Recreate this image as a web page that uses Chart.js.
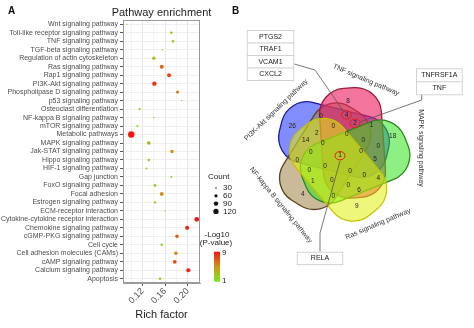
<!DOCTYPE html>
<html>
<head>
<meta charset="utf-8">
<script src="https://cdn.jsdelivr.net/npm/chart.js@4.4.1/dist/chart.umd.min.js"></script>
<style>
    html, body { margin: 0; padding: 0; background: #fff; }
    #wrap { position: relative; width: 474px; height: 328px; }
    #wrap canvas { position: absolute; top: 0; }
    #chartA { left: 0; }
    #chartB { left: 230px; }
</style>
</head>
<body>
<div id="wrap">
    <canvas id="chartA" width="240" height="328"></canvas>
    <canvas id="chartB" width="244" height="328"></canvas>
</div>
<script>
// ---- panel A data (top to bottom) ----
var pathways = [
    'Wnt signaling pathway', 'Toll-like receptor signaling pathway', 'TNF signaling pathway',
    'TGF-beta signaling pathway', 'Regulation of actin cytoskeleton', 'Ras signaling pathway',
    'Rap1 signaling pathway', 'PI3K-Akt signaling pathway', 'Phospholipase D signaling pathway',
    'p53 signaling pathway', 'Osteoclast differentiation', 'NF-kappa B signaling pathway',
    'mTOR signaling pathway', 'Metabolic pathways', 'MAPK signaling pathway',
    'Jak-STAT signaling pathway', 'Hippo signaling pathway', 'HIF-1 signaling pathway',
    'Gap junction', 'FoxO signaling pathway', 'Focal adhesion', 'Estrogen signaling pathway',
    'ECM-receptor interaction', 'Cytokine-cytokine receptor interaction',
    'Chemokine signaling pathway', 'cGMP-PKG signaling pathway', 'Cell cycle',
    'Cell adhesion molecules (CAMs)', 'cAMP signaling pathway', 'Calcium signaling pathway',
    'Apoptosis'
];
var richFactor = [
    0.093, 0.171, 0.174, 0.155, 0.140, 0.154, 0.167, 0.141, 0.182, 0.189,
    0.115, 0.140, 0.111, 0.100, 0.131, 0.172, 0.131, 0.127, 0.171, 0.142,
    0.154, 0.142, 0.160, 0.216, 0.199, 0.181, 0.154, 0.179, 0.177, 0.201,
    0.151
];
var geneCount = [
    27, 45, 45, 29, 62, 78, 78, 92, 62, 27,
    39, 29, 39, 165, 67, 67, 45, 36, 36, 49,
    72, 42, 29, 99, 80, 67, 45, 67, 72, 83,
    45
];
var negLogP = [
    1.5, 3.0, 3.0, 2.0, 3.0, 6.5, 7.5, 8.0, 5.5, 2.0,
    2.0, 2.0, 1.8, 9.0, 3.5, 5.0, 2.5, 2.0, 2.0, 2.5,
    5.5, 2.5, 1.8, 9.0, 8.5, 6.5, 2.0, 5.5, 7.5, 8.5,
    2.5
];
var richTicks = [0.12, 0.16, 0.20];
var richMinor = [0.10, 0.14, 0.18, 0.22];
var countBreaks = [30, 60, 90, 120];
var pRange = [1, 9];

// ---- panel B data ----
var setNames = ['TNF signaling pathway', 'MAPK signaling pathway', 'Ras signaling pathway',
    'NF-kappa B signaling pathway', 'PI3K-Akt signaling pathway'];
var regionCounts = [8, 4, 2, 1, 0, 0, 26, 2, 14, 0, 0, 0, 18, 0, 0, 1,
    0, 5, 0, 0, 0, 0, 0, 4, 1, 0, 0, 6, 4, 0, 9];
var geneGroups = [['PTGS2', 'TRAF1', 'VCAM1', 'CXCL2'], ['TNFRSF1A', 'TNF'], ['RELA']];

// ---- layout for panel B (screen units) ----
var regionPos = [
    [348, 101], [346.5, 115], [355, 123.3], [371.5, 125], [321, 116.7], [333.3, 126],
    [292.3, 126.7], [316.7, 133.3], [305.7, 140], [322.7, 143.3], [346.7, 134.3],
    [363.3, 140], [392.7, 136.7], [378.3, 146.7], [310.7, 152.7], [340, 155.7],
    [361, 151.7], [375, 159.3], [297.3, 160.7], [325, 166.7], [309.3, 170], [350, 171],
    [364.3, 175], [378.3, 178.3], [312.7, 181.7], [331.7, 180.7], [348.3, 185],
    [359, 190.7], [302.7, 194.3], [333.3, 196.7], [356.7, 206]
];
var circledRegions = [1, 2, 15];
var vennCenter = [341, 154];
var petalOffset = 16, petalTilt = 50, petalLong = 55, petalShort = 31, petalRound = 26, petalAngle0 = 44;
var drawOrder = [4, 3, 0, 1, 2];
var setColors = [
    { fill: 'rgba(236,30,95,0.62)', line: '#9b1b3a' },
    { fill: 'rgba(50,225,30,0.55)', line: '#2a8a1a' },
    { fill: 'rgba(225,240,15,0.55)', line: '#c4c400' },
    { fill: 'rgba(160,130,70,0.55)', line: '#5a4520' },
    { fill: 'rgba(45,65,250,0.6)', line: '#1a1aa8' }
];
var setLabelPos = [[366, 80, 23], [421, 148, 90], [378, 224, -23], [281, 205, 51], [276, 110, -44]];
var boxPos = [[246.7, 30, 47.6, 12.5], [416, 68.3, 46.7, 13], [296.7, 251.7, 46.6, 12.5]];
var leaderLines = [
    [[294.3, 64], [315, 70], [344, 112]],
    [[421.7, 94.3], [421.7, 100], [360, 122]],
    [[320, 251.7], [320, 233], [340, 161]]
];

function bubbleRadius(count) {
    return Math.sqrt(Math.max(0.25, 0.072 * (count - 22)));
}

function pColor(v) {
    var stops = [[1, [120, 235, 30]], [5, [205, 150, 25]], [9, [245, 20, 20]]];
    var a = stops[0], b = stops[1];
    if (v > 5) { a = stops[1]; b = stops[2]; }
    var t = (v - a[0]) / (b[0] - a[0]);
    var c = a[1].map(function (x, i) { return Math.round(x + (b[1][i] - x) * t); });
    return 'rgb(' + c.join(',') + ')';
}

var panelADecor = {
    id: 'panelADecor',
    afterDraw: function (chart) {
        var ctx = chart.ctx, area = chart.chartArea;
        ctx.save();
        ctx.strokeStyle = '#9a9a9a';
        ctx.lineWidth = 1;
        ctx.strokeRect(area.left + 0.5, area.top + 0.5, area.right - area.left - 1, area.bottom - area.top - 1);

        ctx.fillStyle = '#111';
        ctx.font = 'bold 10px "Liberation Sans", Arial, sans-serif';
        ctx.textAlign = 'left';
        ctx.textBaseline = 'middle';
        ctx.fillText('A', 8, 11);

        ctx.font = '11px "Liberation Sans", Arial, sans-serif';
        ctx.textAlign = 'center';
        ctx.fillStyle = '#222';
        ctx.fillText('Pathway enrichment', (area.left + area.right) / 2, 12.5);

        // size legend
        ctx.font = '8px "Liberation Sans", Arial, sans-serif';
        ctx.textAlign = 'left';
        ctx.fillText('Count', 208, 177);
        countBreaks.forEach(function (c, i) {
            var y = 188 + i * 7.8;
            ctx.beginPath();
            ctx.arc(216, y, bubbleRadius(c), 0, 2 * Math.PI);
            ctx.fillStyle = '#111';
            ctx.fill();
            ctx.fillStyle = '#222';
            ctx.fillText(String(c), 223, y);
        });

        // colour legend
        ctx.textAlign = 'center';
        ctx.fillText('-Log10', 217, 235);
        ctx.fillText('(P-value)', 216, 242.5);
        var grad = ctx.createLinearGradient(0, 281.7, 0, 251.7);
        for (var s = 0; s <= 8; s++) {
            var v = pRange[0] + s;
            grad.addColorStop(s / 8, pColor(v));
        }
        ctx.fillStyle = grad;
        ctx.fillRect(214, 251.7, 6, 30);
        ctx.fillStyle = '#222';
        ctx.textAlign = 'left';
        ctx.fillText(String(pRange[1]), 222, 253);
        ctx.fillText(String(pRange[0]), 222, 281);
        ctx.restore();
    }
};

new Chart(document.getElementById('chartA'), {
    type: 'bubble',
    data: {
        datasets: [{
            data: pathways.map(function (p, i) {
                return { x: richFactor[i], y: p, r: bubbleRadius(geneCount[i]) };
            }),
            backgroundColor: negLogP.map(pColor),
            borderWidth: 0
        }]
    },
    options: {
        responsive: false,
        animation: false,
        layout: { padding: { top: 20, right: 40, left: 0, bottom: 0 } },
        plugins: { legend: { display: false }, tooltip: { enabled: false }, title: { display: false } },
        scales: {
            x: {
                type: 'linear',
                min: 0.0854,
                max: 0.2217,
                afterBuildTicks: function (scale) {
                    scale.ticks = richMinor.concat(richTicks).sort().map(function (v) { return { value: v }; });
                },
                afterFit: function (scale) { scale.height = 45; },
                ticks: {
                    autoSkip: false,
                    maxRotation: 45,
                    minRotation: 45,
                    padding: 0,
                    color: '#4d4d4d',
                    font: { size: 9, family: '"Liberation Sans", Arial, sans-serif' },
                    callback: function (value) {
                        return richTicks.indexOf(value) >= 0 ? value.toFixed(2) : '';
                    }
                },
                grid: {
                    color: function (c) {
                        return c.tick && richTicks.indexOf(c.tick.value) >= 0 ? '#e6e6e6' : '#f3f3f3';
                    },
                    tickColor: function (c) {
                        return c.tick && richTicks.indexOf(c.tick.value) >= 0 ? '#555' : 'rgba(0,0,0,0)';
                    },
                    tickLength: 3
                },
                border: { color: '#9a9a9a' },
                title: {
                    display: true,
                    text: 'Rich factor',
                    color: '#222',
                    font: { size: 11, family: '"Liberation Sans", Arial, sans-serif' },
                    padding: { top: 0, bottom: 6 }
                }
            },
            y: {
                type: 'category',
                labels: pathways,
                offset: true,
                afterFit: function (scale) { scale.width = 123; },
                ticks: {
                    autoSkip: false,
                    padding: 2,
                    color: '#4d4d4d',
                    font: { size: 7, family: '"Liberation Sans", Arial, sans-serif' }
                },
                grid: { color: '#efefef', tickColor: '#555', tickLength: 3, offset: false },
                border: { color: '#9a9a9a' }
            }
        }
    },
    plugins: [panelADecor]
});

// ---- panel B ----
var vennPlugin = {
    id: 'venn',
    beforeDatasetsDraw: function (chart) {
        var ctx = chart.ctx, sx = chart.scales.x, sy = chart.scales.y;
        var k = sx.getPixelForValue(1) - sx.getPixelForValue(0);
        ctx.save();
        drawOrder.forEach(function (i) {
            var c = setColors[i];
            var psi = (petalAngle0 - 72 * i) * Math.PI / 180;
            var axis = psi + petalTilt * Math.PI / 180;
            var cx = sx.getPixelForValue(vennCenter[0] + petalOffset * Math.cos(psi));
            var cy = sy.getPixelForValue(vennCenter[1] - petalOffset * Math.sin(psi));
            ctx.save();
            ctx.translate(cx, cy);
            ctx.rotate(-axis);
            ctx.beginPath();
            ctx.roundRect(-petalLong * k, -petalShort * k, 2 * petalLong * k, 2 * petalShort * k, petalRound * k);
            ctx.fillStyle = c.fill;
            ctx.fill();
            ctx.lineWidth = 1.3;
            ctx.strokeStyle = c.line;
            ctx.stroke();
            ctx.restore();
        });

        // set names along the petals
        ctx.fillStyle = '#333';
        ctx.font = '7px "Liberation Sans", Arial, sans-serif';
        ctx.textAlign = 'center';
        ctx.textBaseline = 'middle';
        setNames.forEach(function (name, i) {
            var p = setLabelPos[i];
            ctx.save();
            ctx.translate(sx.getPixelForValue(p[0]), sy.getPixelForValue(p[1]));
            ctx.rotate(p[2] * Math.PI / 180);
            ctx.fillText(name, 0, 0);
            ctx.restore();
        });
        ctx.restore();
    },
    afterDatasetsDraw: function (chart) {
        var ctx = chart.ctx, sx = chart.scales.x, sy = chart.scales.y;
        var pts = chart.getDatasetMeta(0).data;
        ctx.save();
        ctx.font = '6.5px "Liberation Sans", Arial, sans-serif';
        ctx.textAlign = 'center';
        ctx.textBaseline = 'middle';
        ctx.fillStyle = '#222';
        pts.forEach(function (pt, i) {
            ctx.fillText(String(regionCounts[i]), pt.x, pt.y);
        });
        ctx.strokeStyle = '#e0201a';
        ctx.lineWidth = 1;
        circledRegions.forEach(function (i) {
            ctx.beginPath();
            ctx.ellipse(pts[i].x, pts[i].y, 5, 4.2, 0, 0, 2 * Math.PI);
            ctx.stroke();
        });

        // leader lines
        ctx.strokeStyle = '#555';
        ctx.lineWidth = 0.8;
        leaderLines.forEach(function (line) {
            ctx.beginPath();
            line.forEach(function (p, j) {
                var x = sx.getPixelForValue(p[0]), y = sy.getPixelForValue(p[1]);
                if (j === 0) ctx.moveTo(x, y); else ctx.lineTo(x, y);
            });
            ctx.stroke();
        });

        // gene boxes
        ctx.font = '7px "Liberation Sans", Arial, sans-serif';
        geneGroups.forEach(function (genes, g) {
            var b = boxPos[g];
            genes.forEach(function (gene, j) {
                var x0 = sx.getPixelForValue(b[0]), y0 = sy.getPixelForValue(b[1] + j * b[3]);
                var w = sx.getPixelForValue(b[0] + b[2]) - x0;
                var h = sy.getPixelForValue(b[1] + (j + 1) * b[3]) - y0;
                ctx.fillStyle = '#fff';
                ctx.fillRect(x0, y0, w, h);
                ctx.strokeStyle = '#c8c8c8';
                ctx.strokeRect(x0 + 0.5, y0 + 0.5, w - 1, h);
                ctx.fillStyle = '#222';
                ctx.fillText(gene, x0 + w / 2, y0 + h / 2 + 0.5);
            });
        });

        ctx.fillStyle = '#111';
        ctx.font = 'bold 10px "Liberation Sans", Arial, sans-serif';
        ctx.textAlign = 'left';
        ctx.fillText('B', sx.getPixelForValue(232), sy.getPixelForValue(11));
        ctx.restore();
    }
};

new Chart(document.getElementById('chartB'), {
    type: 'scatter',
    data: {
        datasets: [{
            data: regionPos.map(function (p) { return { x: p[0], y: p[1] }; }),
            pointRadius: 0
        }]
    },
    options: {
        responsive: false,
        animation: false,
        layout: { padding: 0 },
        plugins: { legend: { display: false }, tooltip: { enabled: false } },
        scales: {
            x: { type: 'linear', min: 230, max: 474, display: false },
            y: { type: 'linear', min: 0, max: 328, reverse: true, display: false }
        }
    },
    plugins: [vennPlugin]
});
</script>
</body>
</html>
